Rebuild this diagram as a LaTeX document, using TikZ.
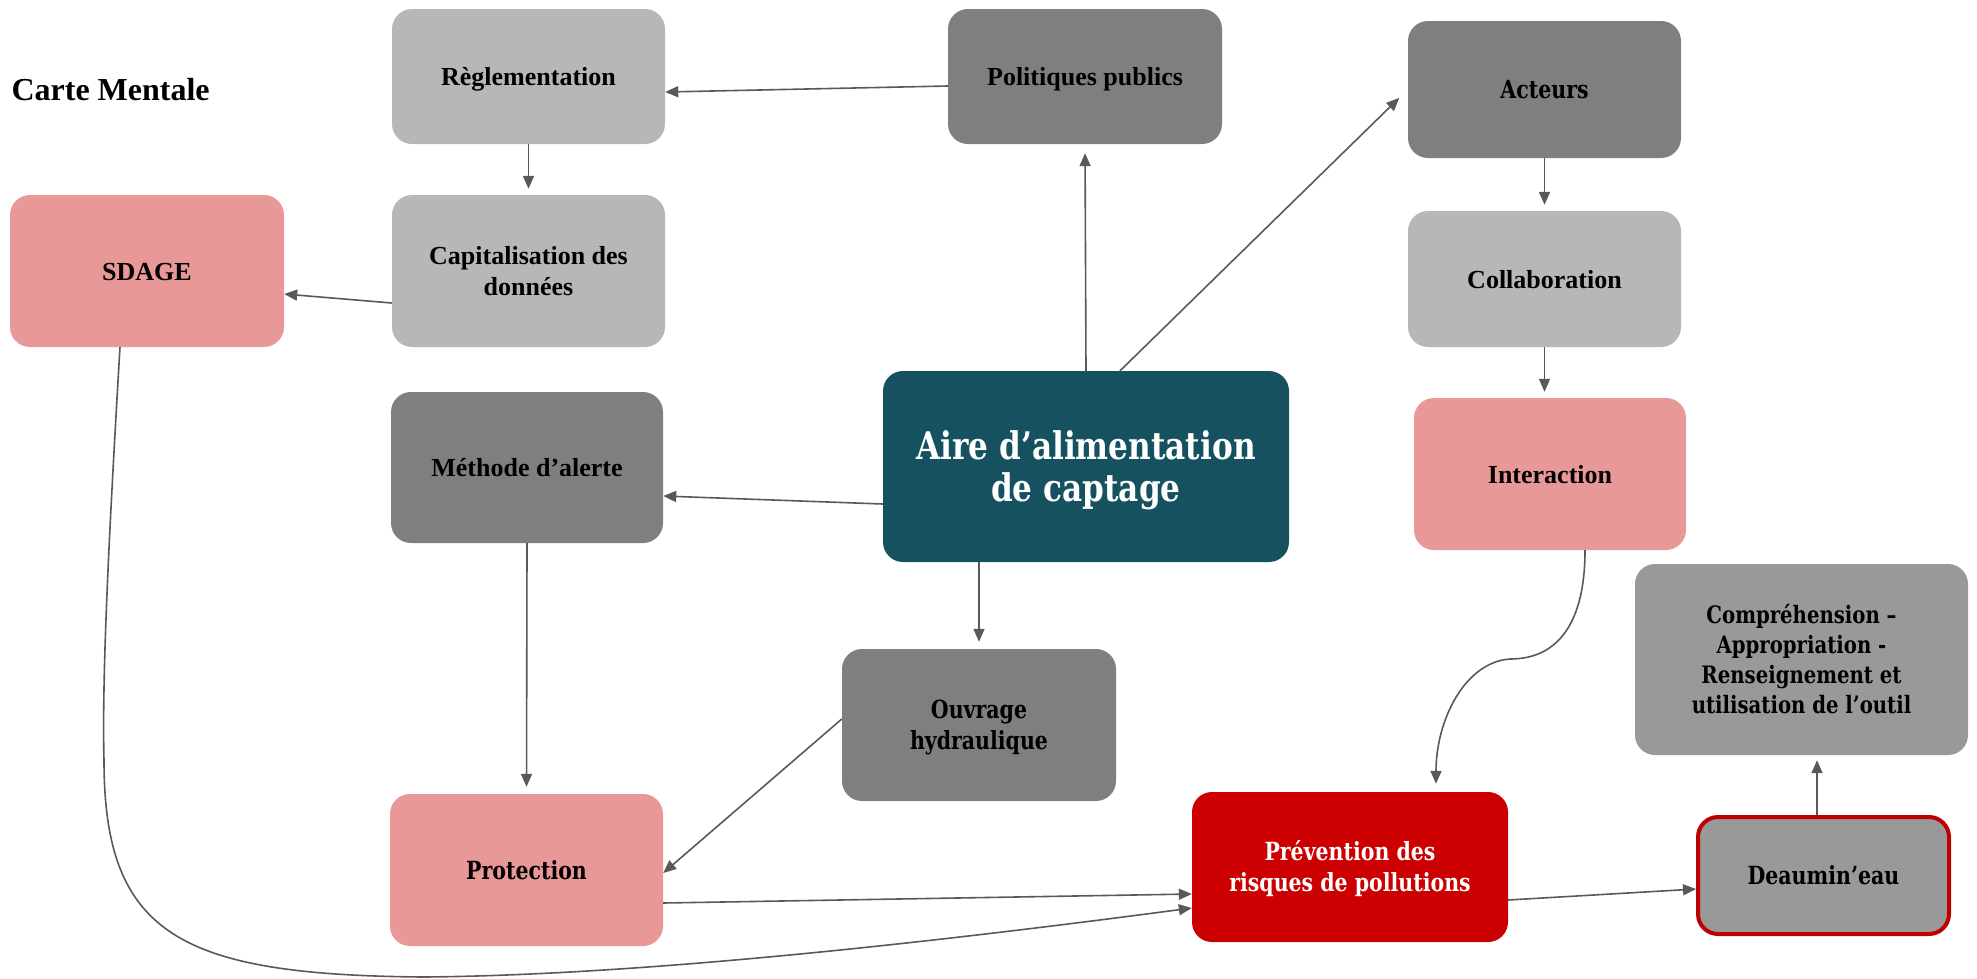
\documentclass[tikz,border=0pt]{standalone}
\usepackage{fontspec}
\setmainfont{Liberation Serif}
\newfontfamily\camb[FakeStretch=0.82]{DejaVu Serif}
\usetikzlibrary{arrows.meta}
\definecolor{lgray}{HTML}{B7B7B7}
\definecolor{dgray}{HTML}{7F7F7F}
\definecolor{mgray}{HTML}{999999}
\definecolor{pinkbox}{HTML}{E99898}
\definecolor{teal}{HTML}{16515F}
\definecolor{redbox}{HTML}{CC0000}
\definecolor{redline}{HTML}{C00000}
\definecolor{arrowc}{HTML}{595959}
\newcommand\topst[1][26pt]{\rule{0pt}{#1}}
\tikzset{
  tstruts/.style 2 args={execute at begin node={\rule{0pt}{#1}},
    execute at end node={\rule[-#2]{0pt}{#2}}},
  box/.style={rounded corners=20pt, align=center, inner sep=0pt, text=black,
    font=\fontsize{26}{31}\selectfont\bfseries, tstruts={26pt}{7.5pt}},
  cbox/.style={box, font=\camb\fontsize{25}{31}\selectfont\bfseries},
  arr/.style={draw=arrowc, line width=1.6pt, -{Triangle[length=13pt,width=11pt]}}
}
\begin{document}
\begin{tikzpicture}[x=1pt,y=-1pt]
\useasboundingbox (0,0) rectangle (1977,978);
\node[anchor=west, font=\fontsize{32}{38}\selectfont\bfseries] (title) at (8,90) {Carte Mentale};
\node[box, fill=lgray, minimum width=273pt, minimum height=135pt] (regl) at (528.5,76.5) {Règlementation};
\node[box, fill=dgray, minimum width=274pt, minimum height=135pt] (pol) at (1085,76.5) {Politiques publics};
\node[cbox, fill=dgray, minimum width=273pt, minimum height=137pt] (act) at (1544.5,89.5) {Acteurs};
\node[box, fill=pinkbox, minimum width=274pt, minimum height=152pt] (sdage) at (147,271) {SDAGE};
\node[box, fill=lgray, minimum width=273pt, minimum height=152pt] (cap) at (528.5,271) {\topst Capitalisation des\\données};
\node[box, fill=lgray, minimum width=273pt, minimum height=136pt] (col) at (1544.5,279) {Collaboration};
\node[box, fill=dgray, minimum width=272pt, minimum height=151pt] (meth) at (527,467.5) {Méthode d’alerte};
\node[cbox, fill=teal, text=white, minimum width=406pt, minimum height=191pt,
  font=\camb\fontsize{38}{42.5}\selectfont\bfseries, tstruts={40pt}{12pt}] (aire) at (1086,466.5) {\topst[40pt]Aire d’alimentation\\de captage};
\node[box, fill=pinkbox, minimum width=272pt, minimum height=152pt] (inter) at (1550,474) {Interaction};
\node[cbox, fill=mgray, minimum width=333pt, minimum height=191pt,
  font=\camb\fontsize{24}{30}\selectfont\bfseries, tstruts={26pt}{9pt}] (comp) at (1801.5,659.5) {\topst Compréhension –\\Appropriation -\\Renseignement et\\utilisation de l’outil};
\node[cbox, fill=dgray, minimum width=274pt, minimum height=152pt] (ouv) at (979,725) {\topst Ouvrage\\hydraulique};
\node[cbox, fill=pinkbox, minimum width=273pt, minimum height=152pt] (prot) at (526.5,870) {Protection};
\node[cbox, fill=redbox, text=white, minimum width=316pt, minimum height=150pt] (prev) at (1350,867) {\topst Prévention des\\risques de pollutions};
\node[cbox, fill=mgray, draw=redline, line width=4pt, minimum width=251pt, minimum height=117pt] (deau) at (1823.5,875.5) {Deaumin’eau};

\draw[arr] ([yshift=-9.5pt]pol.west) -- ([yshift=-15.5pt]regl.east);
\draw[arr, shorten >=6pt] (regl.south) -- (cap.north);
\draw[arr] ([yshift=-32pt]cap.west) -- ([yshift=-23pt]sdage.east);
\draw[arr, shorten >=9pt] (aire.north) -- (pol.south);
\draw[arr, shorten >=12pt] ([xshift=34pt]aire.north) -- (act.west);
\draw[arr, shorten >=6pt] (act.south) -- (col.north);
\draw[arr, shorten >=6pt] (col.south) -- (col.south |- inter.north);
\draw[arr] ([yshift=-37.5pt]aire.west) -- ([yshift=-28.5pt]meth.east);
\draw[arr, shorten >=7pt] (ouv.north |- aire.south) -- (ouv.north);
\draw[arr, shorten >=7pt] (meth.south) -- (prot.north);
\draw[arr] ([yshift=6pt]ouv.west) -- ([yshift=-3pt]prot.east);
\draw[arr] ([yshift=-33pt]prot.east) -- ([yshift=-27pt]prev.west);
\draw[arr] ([xshift=-27pt]sdage.south) .. controls (108,550) and (102,680) .. (104,760)
   .. controls (104,935) and (180,975) .. (424,977)
   .. controls (650,975) and (950,940) .. ([yshift=-41pt]prev.west);
\draw[arr, shorten >=8pt] ([xshift=35pt]inter.south) .. controls (1585,620) and (1560,659) .. (1510,659)
   .. controls (1465,662) and (1436,720) .. ([xshift=86pt]prev.north);
\draw[arr] ([yshift=-33pt]prev.east) -- ([yshift=-13.5pt]deau.west);
\draw[arr, shorten >=5pt] ([xshift=-6.5pt]deau.north) -- ([xshift=15.5pt]comp.south);
\end{tikzpicture}
\end{document}
